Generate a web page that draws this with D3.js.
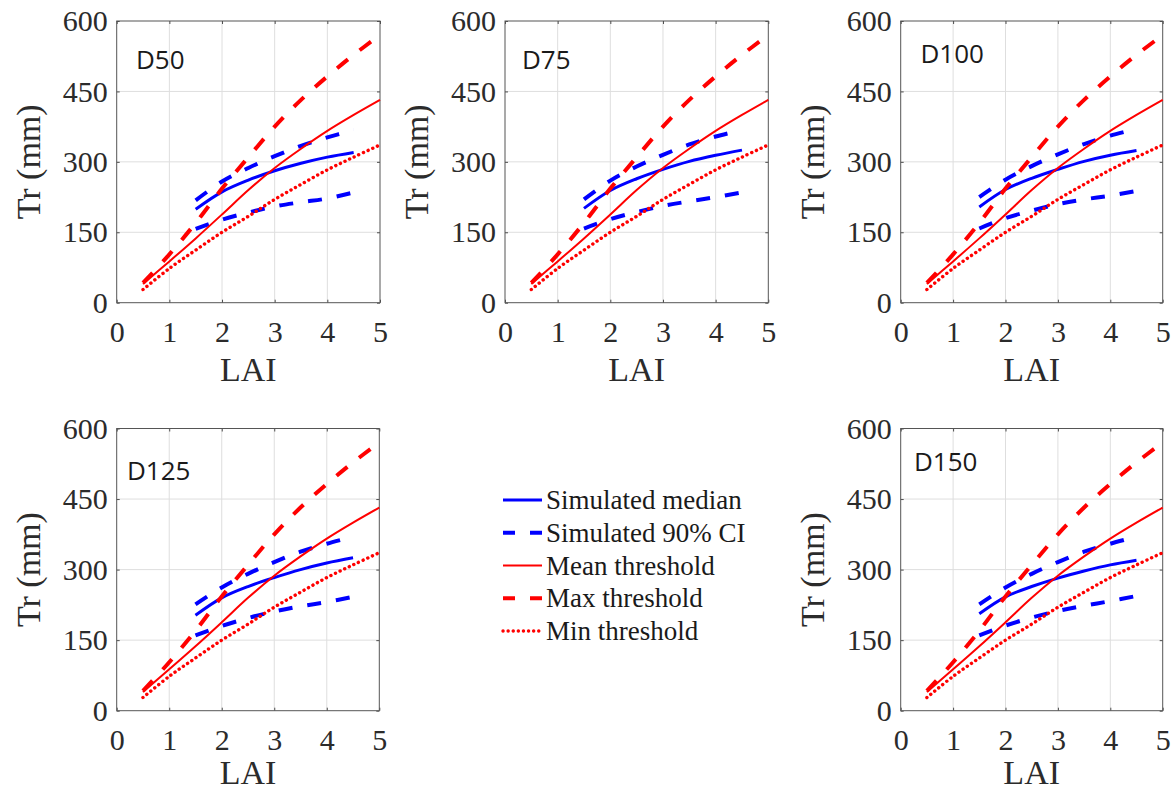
<!DOCTYPE html>
<html>
<head>
<meta charset="utf-8">
<script src="https://cdn.jsdelivr.net/npm/d3@7"></script>
<style>
  html, body { margin: 0; padding: 0; background: #ffffff; }
  svg { display: block; }
</style>
</head>
<body>
<script>
// Transpiration (Tr) against leaf area index (LAI) for five sowing densities.

// Threshold curves (same for all densities)
const lai = [0.5, 1, 1.5, 2, 2.5, 3, 3.5, 4, 4.5, 5];
const meanThreshold = [40, 88, 137, 188, 240, 287, 328, 366, 400, 432];
const maxThreshold  = [42, 103, 170, 243, 310, 375, 432, 482, 528, 570];
const minThreshold  = [28, 73, 112, 150, 184, 220, 252, 283, 310, 336];

// Simulated transpiration, one row per density
const panelNames = ["D50", "D75", "D100", "D125", "D150"];
const laiSim = [1.5, 2, 2.5, 3, 3.5, 4, 4.5];
const simMedian = [
  [199, 236, 261, 281, 297, 310, 320],
  [201, 239, 264, 284, 301, 314, 325],
  [204, 241, 265, 284, 301, 314, 324],
  [203, 240, 264, 283, 300, 314, 325],
  [206, 242, 264, 282, 297, 310, 320]
];
const simUpper = [
  [218, 258, 287, 312, 334, 352, 368],
  [220, 260, 290, 315, 337, 354, 368],
  [225, 262, 291, 316, 338, 356, 370],
  [226, 262, 291, 316, 338, 355, 370],
  [226, 262, 291, 316, 338, 355, 370]
];
const simLower = [
  [157, 177, 192, 205, 214, 222, 235],
  [158, 178, 193, 206, 216, 225, 235],
  [158, 180, 196, 210, 220, 228, 238],
  [160, 180, 197, 211, 222, 231, 242],
  [160, 181, 198, 212, 223, 233, 244]
];

const xTicks = [0, 1, 2, 3, 4, 5];
const yTicks = [0, 150, 300, 450, 600];

const legendLabels = ["Simulated median", "Simulated 90% CI", "Mean threshold", "Max threshold", "Min threshold"];

// Line styles
const styles = {
  median: { color: "#0000ff", width: 3, dash: null, cap: "butt" },
  ci:     { color: "#0000ff", width: 4, dash: "14,15", cap: "butt" },
  mean:   { color: "#ff0000", width: 2, dash: null, cap: "butt" },
  max:    { color: "#ff0000", width: 4, dash: "14,15", cap: "butt" },
  min:    { color: "#ff0000", width: 3.4, dash: "0.1,5", cap: "round" }
};

// Panel frames (left, right, top, bottom) and label positions
const frames = [
  { l: 116.7, r: 380.0, t: 21.0,  b: 302.7, lx: 136,   ly: 69 },
  { l: 505.0, r: 768.3, t: 21.0,  b: 302.7, lx: 522,   ly: 69 },
  { l: 900.7, r: 1162.7, t: 21.0, b: 302.7, lx: 920.5, ly: 63 },
  { l: 116.7, r: 379.3, t: 428.5, b: 710.7, lx: 127,   ly: 480 },
  { l: 900.7, r: 1162.7, t: 428.5, b: 710.7, lx: 914,  ly: 471 }
];

const W = 1173, H = 792;
const svg = d3.select("body").append("svg")
  .attr("width", W).attr("height", H)
  .style("background", "#ffffff");

const serif = "'Liberation Serif', 'Times New Roman', serif";
const sans = "'Open Sans', 'Noto Sans', sans-serif";

function styleLine(sel, s) {
  sel.attr("fill", "none")
    .attr("stroke", s.color)
    .attr("stroke-width", s.width)
    .attr("stroke-linecap", s.cap)
    .attr("stroke-linejoin", "round");
  if (s.dash) sel.attr("stroke-dasharray", s.dash);
  return sel;
}

panelNames.forEach((name, i) => {
  const f = frames[i];
  const x = d3.scaleLinear().domain([0, 5]).range([f.l, f.r]);
  const y = d3.scaleLinear().domain([0, 600]).range([f.b, f.t]);
  const g = svg.append("g");

  // grid
  g.append("g").selectAll("line").data(xTicks.slice(1, -1)).join("line")
    .attr("x1", d => x(d)).attr("x2", d => x(d))
    .attr("y1", f.t).attr("y2", f.b)
    .attr("stroke", "#dedede").attr("stroke-width", 1);
  g.append("g").selectAll("line").data(yTicks.slice(1, -1)).join("line")
    .attr("x1", f.l).attr("x2", f.r)
    .attr("y1", d => y(d)).attr("y2", d => y(d))
    .attr("stroke", "#dedede").attr("stroke-width", 1);

  // axes with inward ticks on all four sides
  const ax = g.append("g").attr("transform", `translate(0,${f.b})`)
    .call(d3.axisBottom(x).tickValues(xTicks).tickSize(-3).tickSizeOuter(0).tickPadding(18).tickFormat(d3.format("d")));
  const ay = g.append("g").attr("transform", `translate(${f.l},0)`)
    .call(d3.axisLeft(y).tickValues(yTicks).tickSize(-3).tickSizeOuter(0).tickPadding(9).tickFormat(d3.format("d")));
  const axTop = g.append("g").attr("transform", `translate(0,${f.t})`)
    .call(d3.axisTop(x).tickValues(xTicks).tickSize(-3).tickSizeOuter(0).tickFormat(""));
  const ayRight = g.append("g").attr("transform", `translate(${f.r},0)`)
    .call(d3.axisRight(y).tickValues(yTicks).tickSize(-3).tickSizeOuter(0).tickFormat(""));
  [ax, ay, axTop, ayRight].forEach(a => {
    a.attr("font-family", serif).attr("font-size", 30);
    a.select(".domain").remove();
    a.selectAll(".tick line").attr("stroke", "#4d4d4d");
    a.selectAll("text")
      .attr("fill", "#2b2b2b")
      .style("font-family", serif)
      .style("font-size", "30px");
  });

  // frame
  g.append("rect")
    .attr("x", f.l).attr("y", f.t)
    .attr("width", f.r - f.l).attr("height", f.b - f.t)
    .attr("fill", "none").attr("stroke", "#555555").attr("stroke-width", 1);

  // axis titles
  g.append("text")
    .attr("x", (f.l + f.r) / 2).attr("y", Math.min(f.b + 78, 784))
    .attr("text-anchor", "middle")
    .attr("fill", "#2b2b2b")
    .style("font-family", serif).style("font-size", "34px")
    .text("LAI");
  g.append("text")
    .attr("transform", `translate(${f.l - 77},${(f.t + f.b) / 2}) rotate(-90)`)
    .attr("text-anchor", "middle")
    .attr("fill", "#2b2b2b")
    .style("font-family", serif).style("font-size", "34px")
    .text("Tr (mm)");

  // series
  const line = d3.line().x(d => x(d[0])).y(d => y(d[1])).curve(d3.curveCatmullRom.alpha(0.5));
  const plot = g.append("g");
  const zipped = (xs, ys) => xs.map((v, k) => [v, ys[k]]);

  styleLine(plot.append("path").attr("d", line(zipped(laiSim, simMedian[i]))), styles.median);
  styleLine(plot.append("path").attr("d", line(zipped(laiSim, simUpper[i]))), styles.ci);
  styleLine(plot.append("path").attr("d", line(zipped(laiSim, simLower[i]))), styles.ci);
  styleLine(plot.append("path").attr("d", line(zipped(lai, meanThreshold))), styles.mean);
  styleLine(plot.append("path").attr("d", line(zipped(lai, maxThreshold))), styles.max);
  styleLine(plot.append("path").attr("d", line(zipped(lai, minThreshold))), styles.min);

  // density label
  g.append("text")
    .attr("x", f.lx).attr("y", f.ly)
    .attr("fill", "#1a1a1a")
    .style("font-family", sans).style("font-size", "26px")
    .text(name);
});

// legend
const legendKeys = ["median", "ci", "mean", "max", "min"];
const lg = svg.append("g");
const rowY = d3.scaleLinear().domain([0, 4]).range([500, 631]);
legendKeys.forEach((k, j) => {
  const yy = rowY(j);
  const sample = styleLine(lg.append("line")
    .attr("x1", 503).attr("x2", 542)
    .attr("y1", yy).attr("y2", yy), styles[k]);
  if (k === "ci" || k === "max") sample.attr("stroke-dasharray", "12,15");
  lg.append("text")
    .attr("x", 546).attr("y", yy + 9)
    .attr("fill", "#1a1a1a")
    .style("font-family", serif).style("font-size", "27px")
    .text(legendLabels[j]);
});
</script>
</body>
</html>
